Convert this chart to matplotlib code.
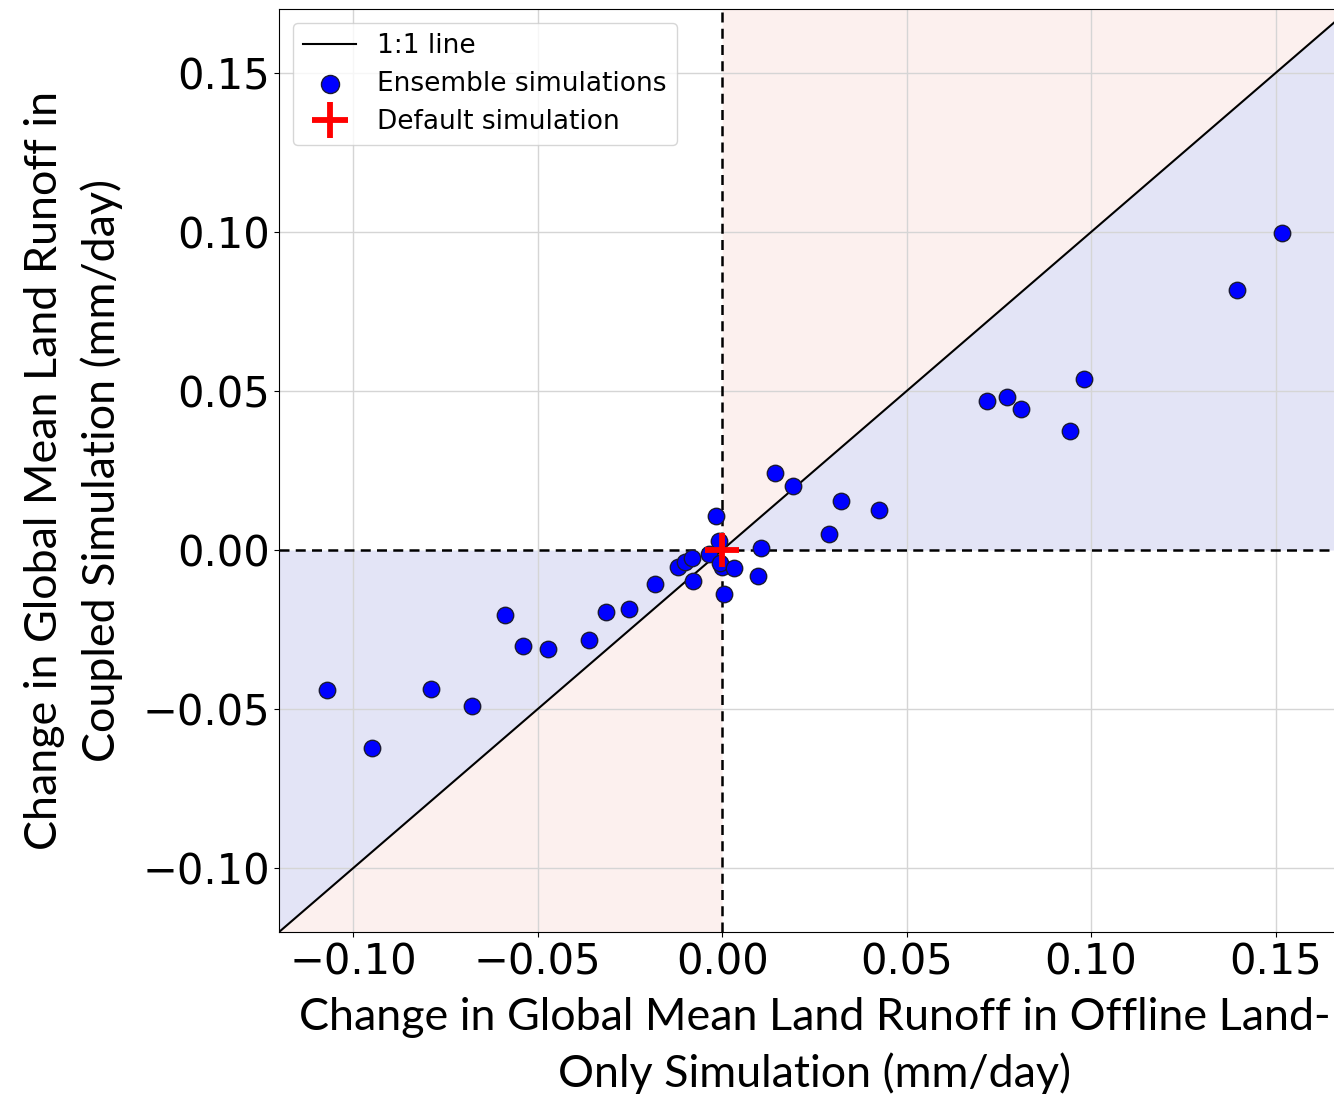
import numpy as np
import matplotlib
matplotlib.use("Agg")
import matplotlib.pyplot as plt

# change in global mean land runoff (mm/day) for each ensemble member
offline_change = [-0.1070, -0.0950, -0.0789, -0.0678, -0.0589, -0.0540, -0.0472,
                  -0.0361, -0.0315, -0.0252, -0.0182, -0.0119, -0.0101, -0.0082,
                  -0.0080, -0.0017, -0.0008, -0.0035, 0.0000, -0.0006, 0.0006,
                  0.0031, 0.0098, 0.0105, 0.0143, 0.0191, 0.0290, 0.0322, 0.0425,
                  0.0718, 0.0772, 0.0810, 0.0944, 0.0980, 0.1396, 0.1518]
coupled_change = [-0.0440, -0.0622, -0.0437, -0.0491, -0.0204, -0.0302, -0.0311,
                  -0.0283, -0.0195, -0.0186, -0.0107, -0.0053, -0.0037, -0.0026,
                  -0.0097, 0.0107, 0.0029, -0.0013, -0.0053, -0.0041, -0.0138,
                  -0.0058, -0.0082, 0.0005, 0.0242, 0.0201, 0.0050, 0.0154, 0.0126,
                  0.0470, 0.0480, 0.0442, 0.0374, 0.0537, 0.0818, 0.0996]
default_offline = 0.0
default_coupled = 0.0

lims = (-0.12, 0.17)
ticks = [-0.10, -0.05, 0.00, 0.05, 0.10, 0.15]

fig = plt.figure(figsize=(13.34, 10.94), dpi=100)
ax = fig.add_axes([0.2095, 0.1484, 0.802, 0.843])

# shaded quadrants: damped response (blue) and amplified response (pink)
xneg = np.linspace(lims[0], 0, 50)
xpos = np.linspace(0, lims[1], 50)
blue = "#e3e4f6"
pink = "#fcf0ee"
ax.fill_between(xneg, xneg, 0, color=blue, lw=0, zorder=0)
ax.fill_between(xpos, 0, xpos, color=blue, lw=0, zorder=0)
ax.fill_between(xneg, lims[0], xneg, color=pink, lw=0, zorder=0)
ax.fill_between(xpos, xpos, lims[1], color=pink, lw=0, zorder=0)

# grid lines, leaving the zero lines to the dashed axes below
for t in ticks:
    if t != 0:
        ax.axvline(t, color="#d5d5d5", lw=1, zorder=0.5)
        ax.axhline(t, color="#d5d5d5", lw=1, zorder=0.5)
ax.axhline(0, color="black", ls=(0, (4, 2.5)), lw=1.8, zorder=1)
ax.axvline(0, color="black", ls=(0, (4, 2.5)), lw=1.8, zorder=1)

ax.plot(lims, lims, color="black", lw=1.5, label="1:1 line", zorder=2)
ax.scatter(offline_change, coupled_change, s=140, c="blue", edgecolors="#1a1a33",
           linewidths=1.0, label="Ensemble simulations", zorder=3)
ax.plot(default_offline, default_coupled, "+", color="red", ms=24, mew=4.2,
        label="Default simulation", zorder=4)

ax.set_xlim(lims)
ax.set_ylim(lims)
ax.set_xticks(ticks)
ax.set_yticks(ticks)
ax.tick_params(labelsize=30)

label_font = dict(family=["Lato", "DejaVu Sans"], fontsize=32.3, linespacing=1.42)
ax.set_xlabel("Change in Global Mean Land Runoff in Offline Land-\nOnly Simulation (mm/day)",
              labelpad=10, **label_font)
ax.set_ylabel("Change in Global Mean Land Runoff in\nCoupled Simulation (mm/day)",
              labelpad=14, **label_font)

ax.legend(loc="upper left", fontsize=19, markerscale=1.1, labelspacing=0.45)

fig.savefig("out.png", dpi=100)
